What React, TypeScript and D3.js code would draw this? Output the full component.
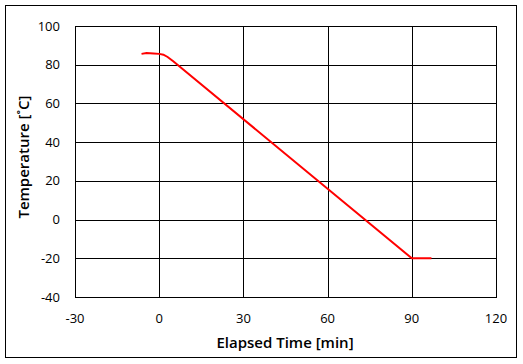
import React from "react";
import * as d3 from "d3";

const timeMin = [-6.3, -4.5, -2, 0, 1.5, 3, 5, 90, 92, 97];
const tempC = [85.6, 86.0, 85.8, 85.6, 85.2, 84.0, 81.8, -20, -20, -20];
const xTicks = [-30, 0, 30, 60, 90, 120];
const yTicks = [-40, -20, 0, 20, 40, 60, 80, 100];
const xTitle = "Elapsed Time [min]";
const yTitle = "Temperature [˚C]";

export default function App() {
  const W = 523, H = 364;
  const left = 75, right = 496, top = 26, bottom = 297;
  const x = d3.scaleLinear().domain([-30, 120]).range([left, right]);
  const y = d3.scaleLinear().domain([-40, 100]).range([bottom, top]);
  const pts = timeMin.map((t, i) => [t, tempC[i]] as [number, number]);
  const line = d3.line<[number, number]>().x(d => x(d[0])).y(d => y(d[1]));
  const font = "'Open Sans', 'DejaVu Sans', sans-serif";
  return (
    <svg width={W} height={H} style={{ position: "absolute", left: 0, top: 0 }}>
      <rect x={0} y={0} width={W} height={H} fill="#fff" />
      <rect x={5.5} y={5.5} width={511} height={352} fill="none" stroke="#000" strokeWidth={1} />
      {xTicks.map(t => (
        <line key={"gx" + t} x1={Math.round(x(t)) + 0.5} x2={Math.round(x(t)) + 0.5} y1={top} y2={bottom} stroke="#000" strokeWidth={1} />
      ))}
      {yTicks.map(t => (
        <line key={"gy" + t} x1={left} x2={right} y1={Math.round(y(t)) + 0.5} y2={Math.round(y(t)) + 0.5} stroke="#000" strokeWidth={1} />
      ))}
      <rect x={left + 0.5} y={top + 0.5} width={right - left} height={bottom - top} fill="none" stroke="#000" strokeWidth={1} />
      <path d={line(pts) || ""} fill="none" stroke="#ff0000" strokeWidth={2} />
      {yTicks.map(t => (
        <text key={"ty" + t} x={60} y={y(t)} dy="0.35em" textAnchor="end" fontFamily={font} fontSize={13} fill="#000">{t}</text>
      ))}
      {xTicks.map(t => (
        <text key={"tx" + t} x={x(t)} y={318} dy="0.35em" textAnchor="middle" fontFamily={font} fontSize={13} fill="#000">{t}</text>
      ))}
      <text x={285} y={343} dy="0.35em" textAnchor="middle" fontFamily={font} fontSize={15} fontWeight={600} fill="#000">{xTitle}</text>
      <text transform={`translate(24,157) rotate(-90)`} dy="0.35em" textAnchor="middle" fontFamily={font} fontSize={15} fontWeight={600} fill="#000">{yTitle}</text>
    </svg>
  );
}
